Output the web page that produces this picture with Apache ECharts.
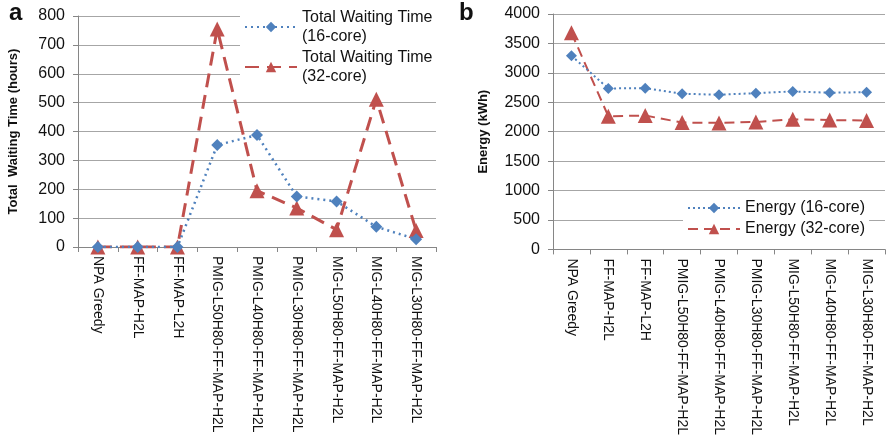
<!DOCTYPE html>
<html><head><meta charset="utf-8">
<script src="https://cdn.jsdelivr.net/npm/echarts@6/dist/echarts.min.js"></script>
<style>html,body{margin:0;padding:0;background:#fff}#c{width:886px;height:438px}</style>
</head><body><div id="c"></div>
<script>
var categories = ["NPA Greedy","FF-MAP-H2L","FF-MAP-L2H","PMIG-L50H80-FF-MAP-H2L","PMIG-L40H80-FF-MAP-H2L","PMIG-L30H80-FF-MAP-H2L","MIG-L50H80-FF-MAP-H2L","MIG-L40H80-FF-MAP-H2L","MIG-L30H80-FF-MAP-H2L"];
var wait16 = [0,0,0,353,388,175,158,70,27];
var wait32 = [0,0,0,755,195,135,60,512,57];
var energy16 = [3290,2735,2740,2645,2628,2655,2684,2662,2672];
var energy32 = [3680,2262,2275,2155,2150,2165,2210,2198,2190];

var BLUE = '#4f81bd', RED = '#c0504d';
var FONT = 'Liberation Sans';
var chart = echarts.init(document.getElementById('c'));

function xAxis(gi){
  return {type:'category', gridIndex:gi, data:categories, boundaryGap:true,
    axisLine:{lineStyle:{color:'#868686', width:1}},
    axisTick:{show:true, interval:0, length:5, lineStyle:{color:'#868686'}},
    axisLabel:{rotate:-90, interval:0, color:'#111', fontFamily:FONT, fontSize:14, margin:9}};
}
function yAxis(gi, max, interval, name, gap){
  return {type:'value', gridIndex:gi, min:0, max:max, interval:interval,
    name:name, nameLocation:'middle', nameGap:gap,
    nameTextStyle:{fontFamily:FONT, fontWeight:'bold', fontSize:13, color:'#111'},
    axisLine:{show:true, lineStyle:{color:'#868686'}},
    axisTick:{show:true, length:5, lineStyle:{color:'#868686'}},
    splitLine:{lineStyle:{color:'#a6a6a6', width:1}},
    axisLabel:{color:'#111', fontFamily:FONT, fontSize:16, margin:13,
      formatter:function(v){return String(v);}}};
}

chart.setOption({
  animation:false,
  title:[
    {text:'a', left:4, top:-4, textStyle:{fontFamily:FONT, fontSize:24, fontWeight:'bold', color:'#111'}},
    {text:'b', left:454, top:-4, textStyle:{fontFamily:FONT, fontSize:24, fontWeight:'bold', color:'#111'}}
  ],
  grid:[
    {left:78, top:16, width:358, height:231},
    {left:553, top:14, width:332, height:238}
  ],
  xAxis:[xAxis(0), xAxis(1)],
  yAxis:[yAxis(0,800,100,'Total  Waiting Time (hours)',58), yAxis(1,4000,500,'Energy (kWh)',63)],
  legend:[
    {data:['Total Waiting Time\n(16-core)','Total Waiting Time\n(32-core)'], orient:'vertical',
     left:240, top:5, itemWidth:52, itemHeight:13, itemGap:2, padding:[3,4,3,4],
     backgroundColor:'#fff',
     textStyle:{fontFamily:FONT, fontSize:16, color:'#111', lineHeight:19}},
    {data:['Energy (16-core)','Energy (32-core)'], orient:'vertical',
     left:683, top:198, itemWidth:52, itemHeight:13, itemGap:5, padding:[2,4,2,4],
     backgroundColor:'#fff',
     textStyle:{fontFamily:FONT, fontSize:16, color:'#111'}}
  ],
  series:[
    {name:'Total Waiting Time\n(16-core)', type:'line', xAxisIndex:0, yAxisIndex:0, data:wait16,
     symbol:'diamond', symbolSize:12, itemStyle:{color:BLUE},
     lineStyle:{color:BLUE, width:2.5, type:[2,4]}, z:3},
    {name:'Total Waiting Time\n(32-core)', type:'line', xAxisIndex:0, yAxisIndex:0, data:wait32,
     symbol:'triangle', symbolSize:15, itemStyle:{color:RED},
     lineStyle:{color:RED, width:3, type:[14,8]}, z:2},
    {name:'Energy (16-core)', type:'line', xAxisIndex:1, yAxisIndex:1, data:energy16,
     symbol:'diamond', symbolSize:11, itemStyle:{color:BLUE},
     lineStyle:{color:BLUE, width:2, type:[2,3]}, z:3},
    {name:'Energy (32-core)', type:'line', xAxisIndex:1, yAxisIndex:1, data:energy32,
     symbol:'triangle', symbolSize:15, itemStyle:{color:RED},
     lineStyle:{color:RED, width:2, type:[10,6]}, z:2}
  ]
});
</script></body></html>
